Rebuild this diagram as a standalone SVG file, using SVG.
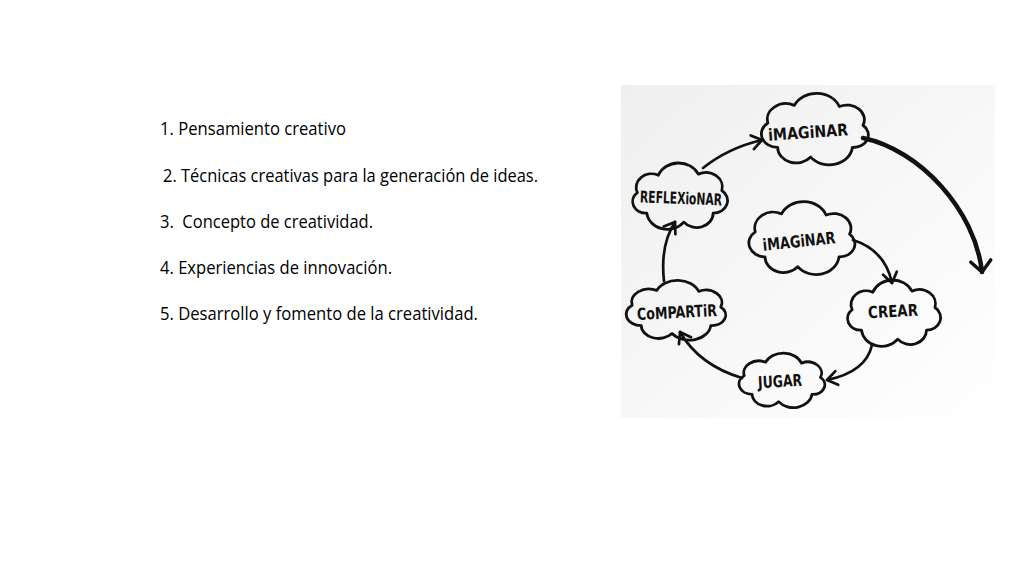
<svg xmlns="http://www.w3.org/2000/svg" xmlns:xlink="http://www.w3.org/1999/xlink" width="1024" height="576" viewBox="0 0 1024 576">
  <style>
    .item { font-family: "Open Sans", "Noto Sans", "Liberation Sans", sans-serif; font-size: 18.5px; fill: #000; }
    .lbl { font-family: "DejaVu Sans Condensed", "DejaVu Sans", "Liberation Sans", sans-serif; font-weight: bold; font-size: 16.5px; fill: #111; text-anchor: middle; }
    .cloud { fill: none; stroke: #111; stroke-width: 2.8; stroke-linejoin: round; }
    .arrow { fill: none; stroke: #111; stroke-width: 2.7; stroke-linecap: round; }
    .big { stroke-width: 4.5; }
  </style>
  <defs>
    <linearGradient id="bg" x1="0" y1="0" x2="1" y2="1">
      <stop offset="0" stop-color="#efefef"/>
      <stop offset="0.55" stop-color="#f8f8f8"/>
      <stop offset="1" stop-color="#ffffff"/>
    </linearGradient>
    <path id="cloudShape" vector-effect="non-scaling-stroke" d="M-40.6,-7.2 A16 16 0 0 1 -17.8,-25.4 A21 21 0 0 1 21,-24.2 A15 15 0 0 1 41.4,-4.9 A13 13 0 0 1 32.2,18 A20 20 0 0 1 -3.7,27.9 A16 16 0 0 1 -32.2,18 A14 14 0 0 1 -40.6,-7.2 Z"/>
    <marker id="vhead" markerUnits="userSpaceOnUse" markerWidth="24" markerHeight="24" viewBox="-14 -12 18 24" refX="0" refY="0" orient="auto">
      <path d="M-10,-7 L0,0 L-10,7" fill="none" stroke="#111" stroke-width="2.7" stroke-linecap="round" stroke-linejoin="round"/>
    </marker>
    <marker id="vheadBig" markerUnits="userSpaceOnUse" markerWidth="28" markerHeight="28" viewBox="-16 -14 20 28" refX="0" refY="0" orient="auto">
      <path d="M-11,-10 L0,0 L-11,10" fill="none" stroke="#111" stroke-width="3.5" stroke-linecap="round" stroke-linejoin="round"/>
    </marker>
  </defs>

  <rect width="1024" height="576" fill="#ffffff"/>

  <g id="topics">
    <text class="item" x="160" y="135" textLength="186" lengthAdjust="spacingAndGlyphs">1. Pensamiento creativo</text>
    <text class="item" x="163" y="182" textLength="375" lengthAdjust="spacingAndGlyphs">2. Técnicas creativas para la generación de ideas.</text>
    <text class="item" x="160" y="228" textLength="213" lengthAdjust="spacingAndGlyphs" xml:space="preserve">3.  Concepto de creatividad.</text>
    <text class="item" x="160" y="274" textLength="232" lengthAdjust="spacingAndGlyphs">4. Experiencias de innovación.</text>
    <text class="item" x="160" y="320" textLength="318" lengthAdjust="spacingAndGlyphs">5. Desarrollo y fomento de la creatividad.</text>
  </g>

  <rect id="picture-bg" x="621" y="85" width="374" height="333" fill="url(#bg)"/>

  <g id="node-imaginar-top">
    <use xlink:href="#cloudShape" class="cloud" transform="translate(815,130) scale(1.16,0.97)"/>
    <text class="lbl" x="808" y="138" textLength="80" lengthAdjust="spacingAndGlyphs" transform="rotate(-4 808 132)">iMAGiNAR</text>
  </g>
  <g id="node-reflexionar">
    <use xlink:href="#cloudShape" class="cloud" transform="translate(680,197) scale(-1.03,0.9)"/>
    <text class="lbl" x="681" y="204" textLength="82" lengthAdjust="spacingAndGlyphs" transform="rotate(2 681 198)">REFLEXioNAR</text>
  </g>
  <g id="node-imaginar-center">
    <use xlink:href="#cloudShape" class="cloud" transform="translate(802,239) scale(1.15,0.99)"/>
    <text class="lbl" x="799" y="247" textLength="73" lengthAdjust="spacingAndGlyphs" transform="rotate(-6 799 241)">iMAGiNAR</text>
  </g>
  <g id="node-crear">
    <use xlink:href="#cloudShape" class="cloud" transform="translate(894,314) scale(-1.01,0.9)"/>
    <text class="lbl" x="893" y="317" textLength="50" lengthAdjust="spacingAndGlyphs" transform="rotate(-3 893 311)">CREAR</text>
  </g>
  <g id="node-jugar">
    <use xlink:href="#cloudShape" class="cloud" transform="translate(782,381) scale(0.93,0.74)"/>
    <text class="lbl" x="780" y="387" textLength="44" lengthAdjust="spacingAndGlyphs" transform="rotate(-3 780 381)">JUGAR</text>
  </g>
  <g id="node-compartir">
    <use xlink:href="#cloudShape" class="cloud" transform="translate(676,311) scale(1.08,0.81)"/>
    <text class="lbl" x="677" y="318" textLength="80" lengthAdjust="spacingAndGlyphs" transform="rotate(-3 677 312)">CoMPARTiR</text>
  </g>

  <g id="connectors">
    <path class="arrow" d="M703,168 Q728,148 762,140" marker-end="url(#vhead)"/>
    <path class="arrow big" d="M863,138 C920,150 975,210 982,272" marker-end="url(#vheadBig)"/>
    <path class="arrow" d="M853,240 Q885,250 892,283" marker-end="url(#vhead)"/>
    <path class="arrow" d="M872,345 Q866,372 827,380" marker-end="url(#vhead)"/>
    <path class="arrow" d="M742,378 Q699,365 680,332" marker-end="url(#vhead)"/>
    <path class="arrow" d="M664,281 Q660,245 675,222" marker-end="url(#vhead)"/>
  </g>
</svg>
